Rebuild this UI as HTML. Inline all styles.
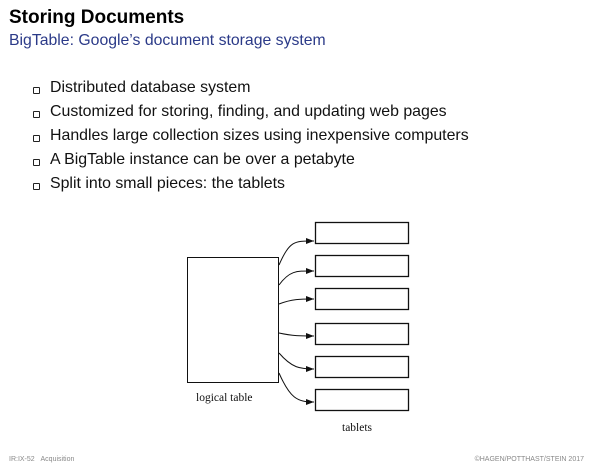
<!DOCTYPE html>
<html><head><style>
body{margin:0;width:600px;height:467px;background:#fff;font-family:"Liberation Sans",sans-serif;position:relative;overflow:hidden}
.t{position:absolute;white-space:nowrap}
.b{position:absolute;left:33px;width:5px;height:5px;border:1px solid #222;border-radius:1px}
.l{left:50px;font-size:15.9px;color:#111}
</style></head><body>
<div class="t" style="left:9px;top:7px;font-size:19px;font-weight:bold;color:#000">Storing Documents</div>
<div class="t" style="left:9px;top:32px;font-size:15.8px;color:#2b3a88">BigTable: Google’s document storage system</div>

<div class="b" style="top:87px"></div><div class="t l" style="top:79px">Distributed database system</div>
<div class="b" style="top:111px"></div><div class="t l" style="top:103px">Customized for storing, finding, and updating web pages</div>
<div class="b" style="top:135px"></div><div class="t l" style="top:127px">Handles large collection sizes using inexpensive computers</div>
<div class="b" style="top:159px"></div><div class="t l" style="top:151px">A BigTable instance can be over a petabyte</div>
<div class="b" style="top:183px"></div><div class="t l" style="top:175px">Split into small pieces: the tablets</div>

<svg width="600" height="467" style="position:absolute;left:0;top:0">
<defs><marker id="a" markerWidth="8" markerHeight="6" refX="8" refY="3" orient="auto" markerUnits="userSpaceOnUse"><path d="M0,0L8,3L0,6z" fill="#111"/></marker></defs>
<g fill="none" stroke="#111" stroke-width="1">
<rect x="187.5" y="257.5" width="91" height="125"/>
<g stroke-width="1.3">
<rect x="315.5" y="222.5" width="93" height="21"/>
<rect x="315.5" y="255.5" width="93" height="21"/>
<rect x="315.5" y="288.5" width="93" height="21"/>
<rect x="315.5" y="323.5" width="93" height="21"/>
<rect x="315.5" y="356.5" width="93" height="21"/>
<rect x="315.5" y="389.5" width="93" height="21"/>
</g>
<path d="M279,265 C290,240 295,241 314,241" marker-end="url(#a)"/>
<path d="M279,285 C290,270 297,271 314,271" marker-end="url(#a)"/>
<path d="M279,304 C292,299 300,299 314,299" marker-end="url(#a)"/>
<path d="M279,333 C293,336 300,336 314,336" marker-end="url(#a)"/>
<path d="M279,353 C292,368 300,369 314,369" marker-end="url(#a)"/>
<path d="M279,373 C290,398 297,402 314,402" marker-end="url(#a)"/>
</g>
<text x="196" y="401" font-family="Liberation Serif,serif" font-size="11.5" fill="#111">logical table</text>
<text x="342" y="431" font-family="Liberation Serif,serif" font-size="11.5" fill="#111">tablets</text>
</svg>

<div class="t" style="left:9px;top:456px;font-size:7px;color:#888">IR:IX-52&nbsp;&nbsp;&nbsp;Acquisition</div>
<div class="t" style="right:16px;top:456px;font-size:7px;color:#888">©HAGEN/POTTHAST/STEIN 2017</div>
</body></html>
